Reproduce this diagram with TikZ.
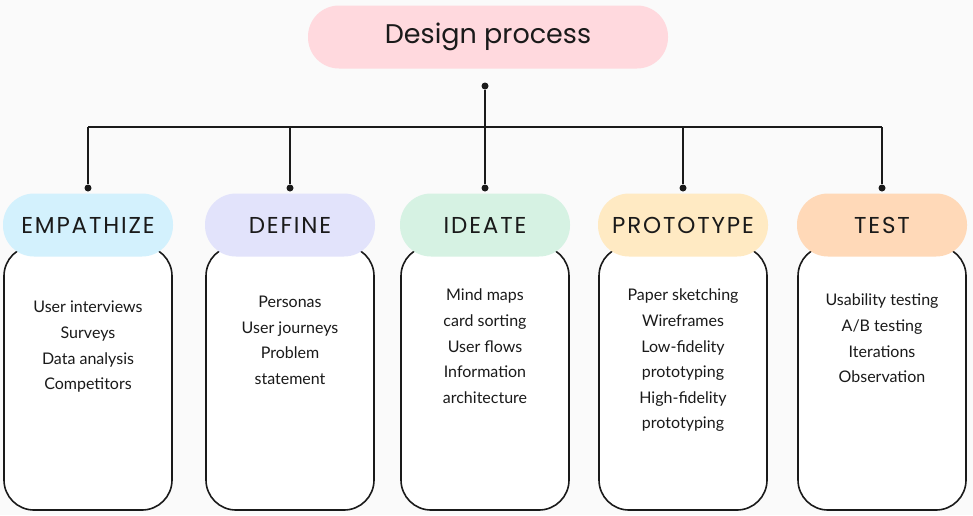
\documentclass[tikz,border=0pt]{standalone}
\usepackage{fontspec}
\setmainfont{Poppins}
\newfontfamily\headfont[LetterSpace=8]{Poppins}
\newfontfamily\handfont{Lato}
\usepackage{tikz}
\definecolor{bg}{HTML}{FAFAFA}
\definecolor{ink}{HTML}{1A1A1A}
\definecolor{titlec}{HTML}{FFD9DE}
\definecolor{empc}{HTML}{D3F1FD}
\definecolor{defc}{HTML}{E2E3FB}
\definecolor{ideac}{HTML}{D6F2E3}
\definecolor{protoc}{HTML}{FFEAC3}
\definecolor{testc}{HTML}{FFD9B8}
\tikzstyle{dot} = [circle, fill=ink, inner sep=0pt, minimum width=7pt]
\tikzstyle{head} = [rectangle, rounded corners=31pt, minimum width=170pt, minimum height=63pt, inner sep=0pt, text=ink, font=\headfont\fontsize{23}{27}\selectfont]
\tikzstyle{body} = [rectangle, rounded corners=30pt, draw=ink, line width=1.6pt, fill=white, minimum width=168pt, minimum height=264pt, inner sep=0pt]
\tikzstyle{items} = [anchor=north, align=center, text=ink, font=\handfont\fontsize{16}{25.6}\selectfont, inner sep=0pt]

\begin{document}
\begin{tikzpicture}[x=1pt,y=-1pt]
			\fill[bg] (0,0) rectangle (973,515);
			\useasboundingbox (0,0) rectangle (973,515);
			\node[head, fill=titlec, minimum width=360pt, font=\fontsize{27}{32}\selectfont] (title) at (488,37) {Design process};
			% phase boxes
			\node[body] (empbody) at (88,378) {};
			\node[body] (defbody) at (290,378) {};
			\node[body] (ideabody) at (485,378) {};
			\node[body] (protobody) at (683,378) {};
			\node[body] (testbody) at (882,378) {};
			\node[head, fill=empc] (emp) at (88,225) {EMPATHIZE};
			\node[head, fill=defc] (def) at (290,225) {DEFINE};
			\node[head, fill=ideac] (idea) at (485,225) {IDEATE};
			\node[head, fill=protoc] (proto) at (683,225) {PROTOTYPE};
			\node[head, fill=testc] (test) at (882,225) {TEST};
			% lists
			\node[items] (emplist) at (88,301) {User interviews\\Surveys\\Data analysis\\Competitors};
			\node[items] (deflist) at (290,296) {Personas\\User journeys\\Problem\\statement};
			\node[items] (idealist) at (485,289) {Mind maps\\card sorting\\User flows\\Information\\architecture};
			\node[items] (protolist) at (683,289) {Paper sketching\\Wireframes\\Low-fidelity\\prototyping\\High-fidelity\\prototyping};
			\node[items] (testlist) at (882,294) {Usability testing\\A/B testing\\Iterations\\Observation};
			% connectors
			\node[dot] (top) at (485,86) {};
			\node[dot] (empdot) at (88,188) {};
			\node[dot] (defdot) at (290,188) {};
			\node[dot] (ideadot) at (485,188) {};
			\node[dot] (protodot) at (683,188) {};
			\node[dot] (testdot) at (882,188) {};
			\coordinate (barL) at (88,127);
			\coordinate (barR) at (882,127);
			\draw[ink, line width=2pt] (barL) -- (barR);
			\draw[ink, line width=2pt] (top) -- (ideadot);
			\draw[ink, line width=2pt] (barL) -- (empdot);
			\draw[ink, line width=2pt] (defdot |- barL) -- (defdot);
			\draw[ink, line width=2pt] (protodot |- barL) -- (protodot);
			\draw[ink, line width=2pt] (barR) -- (testdot);
		\end{tikzpicture}
\end{document}
